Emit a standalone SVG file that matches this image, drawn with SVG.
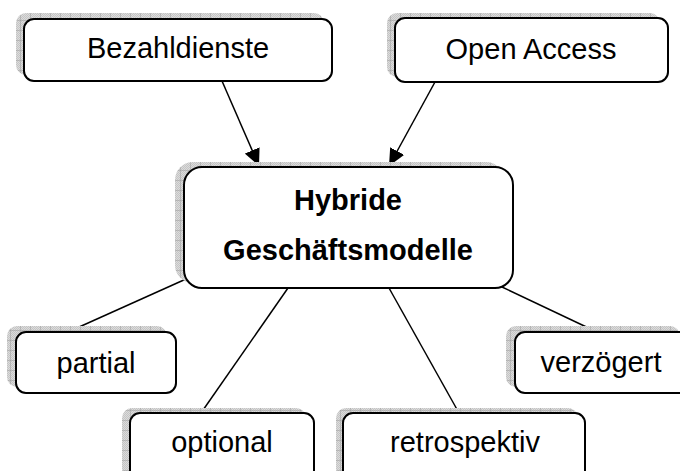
<svg xmlns="http://www.w3.org/2000/svg" width="680" height="471" viewBox="0 0 680 471">
<style>
.box{fill:#fff;stroke:#000;stroke-width:2}
.sh{fill:url(#grid);stroke:none}
.t{font-family:"Liberation Sans",Arial,sans-serif;font-size:29px;fill:#000;text-anchor:middle}
.b{font-weight:bold}
.c{stroke:#000;stroke-width:1.5;fill:none}
</style>
<defs>
<pattern id="fine" width="2" height="2" patternUnits="userSpaceOnUse">
<rect width="2" height="2" fill="#dcdcdc"/>
<rect width="1" height="1" fill="#c4c4c4"/>
<rect x="1" y="1" width="1" height="1" fill="#c4c4c4"/>
</pattern>
<pattern id="grid" width="10" height="10" patternUnits="userSpaceOnUse">
<rect width="10" height="10" fill="url(#fine)"/>
<path d="M0 0H10M0 0V10" stroke="#9c9c9c" stroke-width="1"/>
</pattern>
<marker id="arr" markerUnits="userSpaceOnUse" markerWidth="18" markerHeight="16" refX="17" refY="8" orient="auto">
<path d="M0 0L17 8L0 16Z" fill="#000"/>
</marker>
</defs>
<g id="connectors">
<line class="c" x1="222" y1="81" x2="259" y2="166" marker-end="url(#arr)"/>
<line class="c" x1="435" y1="82" x2="389" y2="166" marker-end="url(#arr)"/>
<line class="c" x1="68" y1="332" x2="186" y2="279"/>
<line class="c" x1="201" y1="413" x2="288" y2="288"/>
<line class="c" x1="459" y1="413" x2="389" y2="288"/>
<line class="c" x1="597" y1="332" x2="502" y2="287"/>
</g>
<g id="bezahldienste">
<rect class="sh" x="16" y="13" width="308" height="62" rx="10"/>
<rect class="box" x="24" y="19" width="308" height="62" rx="10"/>
<text class="t" x="178" y="58">Bezahldienste</text>
</g>
<g id="open-access">
<rect class="sh" x="387" y="13" width="273" height="64" rx="10"/>
<rect class="box" x="395" y="18" width="273" height="64" rx="10"/>
<text class="t" x="531" y="59">Open Access</text>
</g>
<g id="hybride">
<rect class="sh" x="175" y="162" width="329" height="121" rx="18"/>
<rect class="box" x="184" y="167" width="329" height="121" rx="18"/>
<text class="t b" x="348" y="210">Hybride</text>
<text class="t b" x="348" y="260">Geschäftsmodelle</text>
</g>
<g id="partial">
<rect class="sh" x="7" y="326" width="160" height="61" rx="10"/>
<rect class="box" x="16" y="332" width="160" height="61" rx="10"/>
<text class="t" x="96" y="373">partial</text>
</g>
<g id="verzoegert">
<rect class="sh" x="506" y="326" width="174" height="61" rx="10"/>
<rect class="box" x="515" y="332" width="174" height="61" rx="10"/>
<text class="t" x="601" y="372">verzögert</text>
</g>
<g id="optional">
<rect class="sh" x="122" y="408" width="184" height="70" rx="10"/>
<rect class="box" x="130" y="413" width="184" height="70" rx="10"/>
<text class="t" x="222" y="452">optional</text>
</g>
<g id="retrospektiv">
<rect class="sh" x="336" y="408" width="242" height="70" rx="10"/>
<rect class="box" x="343" y="413" width="242" height="70" rx="10"/>
<text class="t" x="465" y="452">retrospektiv</text>
</g>
</svg>
